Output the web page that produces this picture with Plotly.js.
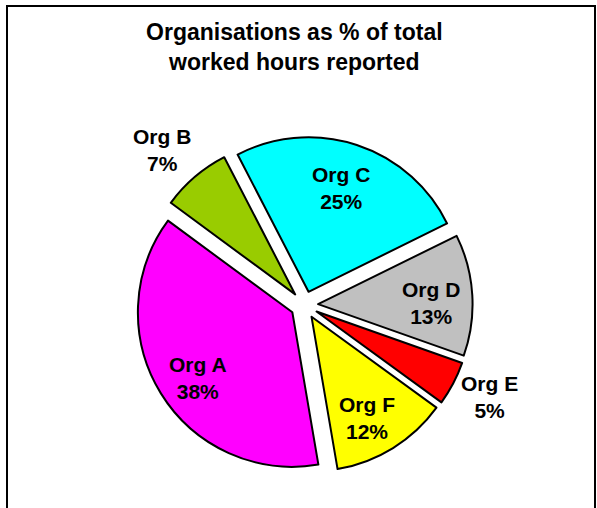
<!DOCTYPE html>
<html>
<head>
<meta charset="utf-8">
<script src="https://cdn.plot.ly/plotly-3.0.1.min.js"></script>
<style>
html,body{margin:0;padding:0;background:#fff;}
#chart{width:597px;height:508px;}
</style>
</head>
<body>
<div id="chart"></div>
<script>
var labels = ["Org A", "Org B", "Org C", "Org D", "Org E", "Org F"];
var values = [37.8, 7.3, 25.3, 12.7, 4.6, 12.3];
var colors = ["#FF00FF", "#99CC00", "#00FFFF", "#C0C0C0", "#FF0000", "#FFFF00"];

// label placement (pixels in the 597x508 picture), styling only
var labelPx = [[198, 378], [162, 150], [341, 188], [431, 303], [489, 397], [367, 418]];

var W = 597, H = 508;
var total = values.reduce(function (a, b) { return a + b; }, 0);
var FONT = "Liberation Sans, Arial, sans-serif";

var trace = {
  type: "pie",
  labels: labels,
  values: values,
  sort: false,
  direction: "clockwise",
  rotation: 170.3,
  pull: 0.09,
  marker: {colors: colors, line: {color: "#000", width: 2}},
  textinfo: "none",
  domain: {x: [0.2275, 0.7916], y: [0.0681, 0.7311]},
  showlegend: false,
  hoverinfo: "none"
};

var annotations = labels.map(function (lab, i) {
  return {
    xref: "paper", yref: "paper",
    x: labelPx[i][0] / W, y: 1 - labelPx[i][1] / H,
    xanchor: "center", yanchor: "middle",
    text: "<b>" + lab + "<br>" + Math.round(values[i] / total * 100) + "%</b>",
    showarrow: false,
    font: {family: FONT, size: 21, color: "#000"}
  };
});

var layout = {
  width: W, height: H,
  margin: {l: 0, r: 0, t: 0, b: 0},
  paper_bgcolor: "#fff",
  title: {
    text: "<b>Organisations as % of total<br>worked hours reported</b>",
    font: {family: FONT, size: 23, color: "#000"},
    x: 0.493, xanchor: "center", xref: "paper",
    y: 0.922, yanchor: "top", yref: "paper"
  },
  annotations: annotations,
  shapes: [{
    type: "rect", xref: "paper", yref: "paper",
    x0: 7 / W, x1: 595 / W, y0: -0.1, y1: 1 - 6 / H,
    line: {color: "#000", width: 2}
  }]
};

Plotly.newPlot("chart", [trace], layout, {staticPlot: true});
</script>
</body>
</html>
